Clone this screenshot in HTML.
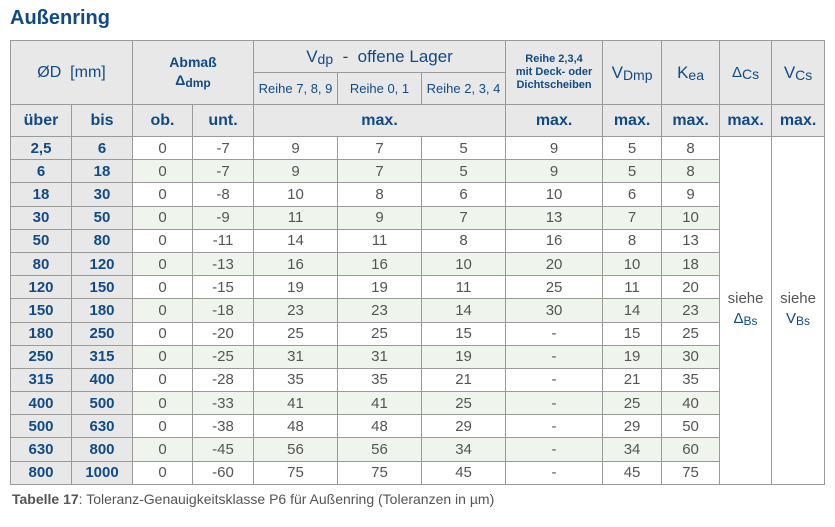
<!DOCTYPE html>
<html><head><meta charset="utf-8"><style>
body{margin:0;width:835px;height:527px;background:#fff;font-family:"Liberation Sans",sans-serif;position:relative;overflow:hidden}
.t{position:absolute;left:10px;top:7px;font-size:20px;font-weight:bold;color:#114a84}
table{position:absolute;left:10px;top:40px;border-collapse:collapse;table-layout:fixed;width:814px}
td{border:1px solid #9a9a9a;text-align:center;padding:0;color:#555;font-size:15px;white-space:nowrap;overflow:hidden}
.h{background:#e8e8e8;color:#114a84}
.b{background:#e8e8e8;color:#114a84;font-weight:bold;font-size:15px}
.g td.d{background:#eff5ec}
.hb{font-weight:bold;font-size:16px}
sub{font-size:12px;vertical-align:-2px}
.cap{position:absolute;left:12px;top:491px;font-size:14px;color:#555}
tr.r td{height:22.2px}
</style></head><body>
<div class="t">Außenring</div>
<table>
<colgroup><col style="width:61px"><col style="width:61px"><col style="width:60px"><col style="width:61px"><col style="width:84px"><col style="width:84px"><col style="width:84px"><col style="width:97px"><col style="width:59px"><col style="width:58px"><col style="width:52px"><col style="width:53px"></colgroup>
<tr style="height:32px"><td class="h" colspan="2" rowspan="2" style="font-size:16px">ØD&nbsp; [mm]</td><td class="h" colspan="2" rowspan="2" style="font-size:14px;font-weight:bold;line-height:18px">Abmaß<br>Δ<sub>dmp</sub></td><td class="h" colspan="3" style="font-size:17px">V<sub style="font-size:14px">dp</sub>&nbsp; - &nbsp;offene Lager</td><td class="h" rowspan="2" style="font-size:11px;font-weight:bold;line-height:13px">Reihe 2,3,4<br>mit Deck- oder<br>Dichtscheiben</td><td class="h" rowspan="2" style="font-size:17px">V<sub style="font-size:14px">Dmp</sub></td><td class="h" rowspan="2" style="font-size:17px">K<sub style="font-size:14px">ea</sub></td><td class="h" rowspan="2" style="font-size:15px">Δ<sub style="font-size:14px">Cs</sub></td><td class="h" rowspan="2" style="font-size:17px">V<sub style="font-size:14px">Cs</sub></td></tr>
<tr style="height:32px"><td class="h" style="font-size:13px">Reihe 7, 8, 9</td><td class="h" style="font-size:13px">Reihe 0, 1</td><td class="h" style="font-size:13px">Reihe 2, 3, 4</td></tr>
<tr style="height:32px"><td class="h hb">über</td><td class="h hb">bis</td><td class="h hb">ob.</td><td class="h hb">unt.</td><td class="h hb" colspan="3">max.</td><td class="h hb">max.</td><td class="h hb">max.</td><td class="h hb">max.</td><td class="h hb">max.</td><td class="h hb">max.</td></tr>
<tr class="r"><td class="b">2,5</td><td class="b">6</td><td class="d">0</td><td class="d">-7</td><td class="d">9</td><td class="d">7</td><td class="d">5</td><td class="d">9</td><td class="d">5</td><td class="d">8</td><td rowspan="15" style="line-height:20px">siehe<br><span style="color:#114a84">Δ<sub>Bs</sub></span></td><td rowspan="15" style="line-height:20px">siehe<br><span style="color:#114a84">V<sub>Bs</sub></span></td></tr>
<tr class="r g"><td class="b">6</td><td class="b">18</td><td class="d">0</td><td class="d">-7</td><td class="d">9</td><td class="d">7</td><td class="d">5</td><td class="d">9</td><td class="d">5</td><td class="d">8</td></tr>
<tr class="r"><td class="b">18</td><td class="b">30</td><td class="d">0</td><td class="d">-8</td><td class="d">10</td><td class="d">8</td><td class="d">6</td><td class="d">10</td><td class="d">6</td><td class="d">9</td></tr>
<tr class="r g"><td class="b">30</td><td class="b">50</td><td class="d">0</td><td class="d">-9</td><td class="d">11</td><td class="d">9</td><td class="d">7</td><td class="d">13</td><td class="d">7</td><td class="d">10</td></tr>
<tr class="r"><td class="b">50</td><td class="b">80</td><td class="d">0</td><td class="d">-11</td><td class="d">14</td><td class="d">11</td><td class="d">8</td><td class="d">16</td><td class="d">8</td><td class="d">13</td></tr>
<tr class="r g"><td class="b">80</td><td class="b">120</td><td class="d">0</td><td class="d">-13</td><td class="d">16</td><td class="d">16</td><td class="d">10</td><td class="d">20</td><td class="d">10</td><td class="d">18</td></tr>
<tr class="r"><td class="b">120</td><td class="b">150</td><td class="d">0</td><td class="d">-15</td><td class="d">19</td><td class="d">19</td><td class="d">11</td><td class="d">25</td><td class="d">11</td><td class="d">20</td></tr>
<tr class="r g"><td class="b">150</td><td class="b">180</td><td class="d">0</td><td class="d">-18</td><td class="d">23</td><td class="d">23</td><td class="d">14</td><td class="d">30</td><td class="d">14</td><td class="d">23</td></tr>
<tr class="r"><td class="b">180</td><td class="b">250</td><td class="d">0</td><td class="d">-20</td><td class="d">25</td><td class="d">25</td><td class="d">15</td><td class="d">-</td><td class="d">15</td><td class="d">25</td></tr>
<tr class="r g"><td class="b">250</td><td class="b">315</td><td class="d">0</td><td class="d">-25</td><td class="d">31</td><td class="d">31</td><td class="d">19</td><td class="d">-</td><td class="d">19</td><td class="d">30</td></tr>
<tr class="r"><td class="b">315</td><td class="b">400</td><td class="d">0</td><td class="d">-28</td><td class="d">35</td><td class="d">35</td><td class="d">21</td><td class="d">-</td><td class="d">21</td><td class="d">35</td></tr>
<tr class="r g"><td class="b">400</td><td class="b">500</td><td class="d">0</td><td class="d">-33</td><td class="d">41</td><td class="d">41</td><td class="d">25</td><td class="d">-</td><td class="d">25</td><td class="d">40</td></tr>
<tr class="r"><td class="b">500</td><td class="b">630</td><td class="d">0</td><td class="d">-38</td><td class="d">48</td><td class="d">48</td><td class="d">29</td><td class="d">-</td><td class="d">29</td><td class="d">50</td></tr>
<tr class="r g"><td class="b">630</td><td class="b">800</td><td class="d">0</td><td class="d">-45</td><td class="d">56</td><td class="d">56</td><td class="d">34</td><td class="d">-</td><td class="d">34</td><td class="d">60</td></tr>
<tr class="r"><td class="b">800</td><td class="b">1000</td><td class="d">0</td><td class="d">-60</td><td class="d">75</td><td class="d">75</td><td class="d">45</td><td class="d">-</td><td class="d">45</td><td class="d">75</td></tr>
</table>
<div class="cap"><b>Tabelle 17</b>: Toleranz-Genauigkeitsklasse P6 für Außenring (Toleranzen in µm)</div>
</body></html>
